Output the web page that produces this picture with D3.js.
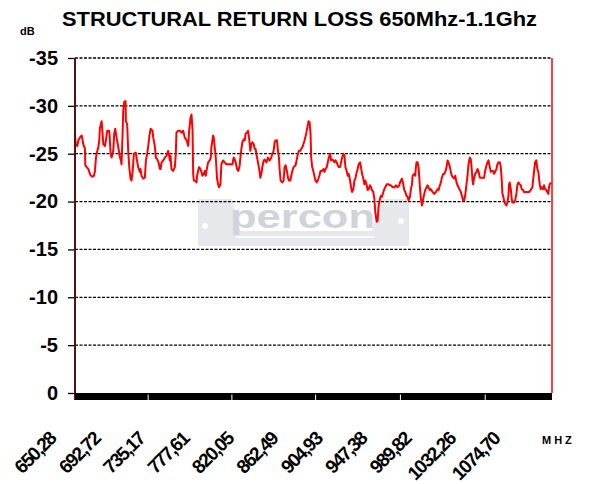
<!DOCTYPE html>
<html>
<head>
<meta charset="utf-8">
<script src="https://cdn.jsdelivr.net/npm/d3@7/dist/d3.min.js"></script>
<style>
body { margin: 0; background: #fff; }
svg { display: block; font-family: Arial, "Liberation Sans", sans-serif; }
</style>
</head>
<body>
<svg width="593" height="484"></svg>
<script>
// readings off the sweep: frequency (MHz) and return loss (dB)
var freq = [
650.0,650.6,652.2,653.1,654.7,656.3,657.2,657.8,659.4,659.7,661.0,662.6,663.5,664.8,666.6,667.9,668.8,669.8,670.4,672.0,
672.9,673.5,675.1,676.0,676.7,678.2,679.2,680.4,682.3,682.9,683.6,684.5,686.1,687.0,688.0,689.2,690.8,692.4,693.3,693.9,
694.9,695.5,696.4,697.7,698.0,699.2,700.2,701.2,702.4,703.3,704.3,704.9,705.5,707.4,708.0,709.6,711.2,711.8,712.7,714.3,
715.9,716.9,718.1,719.1,720.0,721.3,723.1,723.8,725.3,726.3,727.6,728.8,730.1,730.7,731.7,733.2,734.8,736.4,737.9,738.8,
739.5,740.1,741.0,742.6,744.2,745.1,745.7,747.3,748.9,750.5,752.0,753.6,755.2,756.8,757.7,759.0,759.9,760.9,761.5,762.1,
763.1,764.6,765.2,766.1,767.1,768.3,769.3,770.2,771.5,772.4,773.4,774.0,775.6,777.1,778.1,778.7,779.6,780.3,780.9,781.8,
782.8,783.4,784.0,785.0,785.9,787.2,788.1,789.7,791.2,792.8,796.0,798.5,799.7,800.7,801.6,802.9,804.1,805.4,806.0,807.0,
807.9,809.1,810.1,811.0,812.3,813.2,814.2,815.4,816.4,817.3,818.6,819.5,820.4,821.1,822.6,824.2,824.8,825.8,826.7,828.0,
828.9,830.5,832.0,833.0,833.6,835.2,836.1,837.4,838.3,839.3,840.5,841.5,842.4,843.0,844.0,845.5,846.8,847.7,848.7,849.9,
850.9,851.8,853.1,854.0,855.0,856.2,858.1,858.7,860.3,861.2,862.5,863.4,865.0,866.6,868.1,869.1,870.3,871.3,872.2,872.8,
873.8,875.0,876.8,878.1,879.0,880.6,881.6,883.1,884.4,885.3,886.3,887.5,888.5,889.4,890.7,891.6,892.5,893.8,894.7,895.7,
896.9,897.9,898.8,900.1,901.0,902.0,903.2,904.2,905.1,906.3,907.3,908.2,909.5,910.4,911.4,912.6,913.6,914.5,915.8,916.7,
917.6,918.9,919.8,920.8,922.0,923.0,923.9,925.2,926.1,927.1,928.3,929.3,930.2,931.4,932.4,933.3,934.6,935.5,936.5,937.7,
938.7,939.6,940.9,941.8,942.7,944.0,945.9,947.1,948.1,949.7,951.2,952.8,954.4,955.9,956.6,957.5,958.4,959.7,960.6,961.6,
962.8,963.8,964.7,966.0,966.9,967.9,968.5,970.0,971.0,971.6,972.2,973.2,974.1,974.8,975.4,976.3,977.3,977.9,978.5,979.5,
980.4,981.7,982.6,983.5,984.8,985.7,987.3,988.9,990.5,992.0,993.0,994.2,995.2,996.1,997.4,998.3,999.3,1000.5,1001.5,1002.4,
1003.7,1004.6,1005.5,1006.8,1007.7,1008.7,1009.9,1010.9,1011.8,1013.1,1014.0,1015.0,1016.2,1017.1,1018.1,1019.3,1020.3,1021.2,1022.5,1023.4,
1024.4,1025.0,1025.6,1026.6,1027.5,1028.8,1029.7,1030.6,1031.9,1034.4,1036.0,1036.9,1038.2,1039.1,1040.1,1041.3,1042.3,1043.2,1044.4,1045.4,
1046.3,1047.6,1048.5,1049.5,1050.7,1051.7,1052.6,1053.2,1053.9,1054.8,1055.7,1057.0,1057.9,1058.9,1059.5,1060.1,1061.1,1062.0,1062.7,1064.2,
1065.2,1066.4,1067.4,1068.3,1069.6,1070.5,1071.4,1072.7,1073.6,1078.3,1079.9,1081.5,1083.0,1084.0,1085.2,1086.2,1087.1,1088.4,1089.3,1090.3,
1091.5,1092.5,1093.4,1094.7,1095.6,1096.5,1097.2,1097.8,1099.0
];
var loss = [
-27.1,-26.0,-25.8,-26.4,-26.7,-26.9,-26.4,-26.0,-25.5,-23.8,-23.6,-23.4,-23.1,-22.7,-22.6,-22.7,-23.2,-24.6,-25.0,-25.7,
-26.4,-27.7,-28.4,-27.1,-26.0,-25.8,-26.4,-27.4,-27.4,-26.4,-25.0,-24.6,-25.3,-27.1,-27.6,-26.7,-25.7,-24.6,-24.3,-23.9,
-27.1,-29.5,-30.4,-30.5,-28.4,-28.1,-25.3,-23.6,-22.4,-22.2,-23.1,-23.9,-25.0,-25.1,-24.6,-23.6,-23.1,-23.4,-22.7,-22.4,
-22.5,-24.3,-25.0,-25.8,-26.7,-27.6,-27.4,-26.7,-25.8,-24.6,-24.4,-24.1,-23.4,-23.4,-24.1,-24.3,-24.6,-24.8,-25.3,-24.8,
-24.3,-24.8,-23.4,-23.2,-23.6,-25.0,-27.2,-27.4,-27.4,-27.2,-27.4,-26.7,-26.4,-25.8,-27.4,-28.8,-29.1,-27.4,-22.9,-22.2,
-22.2,-22.0,-22.7,-23.2,-23.6,-23.4,-23.1,-22.7,-22.9,-23.2,-22.7,-23.2,-24.1,-24.3,-24.6,-25.7,-26.4,-26.9,-26.7,-25.7,
-24.6,-23.6,-22.4,-21.8,-21.5,-21.8,-23.9,-24.3,-24.1,-23.9,-23.9,-23.9,-24.6,-24.4,-24.1,-23.4,-23.2,-23.8,-24.6,-25.5,
-26.2,-26.5,-26.4,-27.1,-27.2,-27.4,-26.7,-25.3,-26.0,-26.2,-26.0,-25.5,-25.5,-25.0,-24.1,-23.1,-22.5,-22.9,-23.6,-24.3,
-24.4,-24.1,-24.6,-24.4,-24.3,-24.6,-25.0,-25.3,-26.2,-26.4,-26.4,-25.3,-24.6,-23.4,-22.2,-22.0,-22.2,-23.6,-23.8,-23.2,
-22.5,-22.2,-22.2,-22.7,-23.2,-23.6,-23.8,-24.1,-25.0,-25.3,-25.3,-25.5,-25.8,-26.4,-27.1,-27.7,-28.4,-28.3,-27.1,-24.6,
-23.6,-23.1,-22.2,-22.0,-22.2,-22.7,-23.2,-23.2,-23.4,-23.1,-23.4,-23.6,-24.1,-24.6,-25.0,-24.3,-24.4,-24.3,-24.1,-24.3,
-24.1,-23.8,-23.6,-23.6,-24.1,-24.6,-25.0,-24.8,-23.6,-23.2,-22.7,-22.9,-22.2,-21.5,-21.0,-21.3,-22.2,-22.4,-23.1,-23.4,
-23.9,-24.1,-23.6,-22.9,-22.4,-21.8,-22.2,-21.7,-21.2,-21.3,-21.7,-21.5,-21.2,-21.0,-20.3,-18.9,-17.9,-18.0,-19.6,-20.3,
-20.6,-20.5,-21.0,-21.3,-21.5,-21.8,-21.8,-21.7,-21.7,-21.5,-21.5,-21.7,-21.5,-21.7,-22.0,-22.2,-22.4,-21.8,-21.2,-21.0,
-20.6,-20.5,-20.1,-20.5,-21.3,-21.8,-22.7,-22.9,-22.7,-23.6,-24.1,-24.1,-23.6,-22.5,-21.5,-20.3,-19.6,-19.8,-20.3,-20.8,
-21.2,-21.5,-21.7,-21.5,-21.2,-21.3,-21.0,-20.8,-21.0,-21.3,-21.2,-21.7,-22.0,-22.5,-22.9,-22.9,-23.1,-23.6,-24.3,-24.1,
-23.6,-23.1,-22.7,-22.5,-22.4,-22.7,-22.0,-21.7,-21.5,-21.2,-21.0,-20.6,-20.1,-20.1,-20.6,-21.8,-22.7,-23.9,-24.6,-24.4,
-23.2,-22.2,-21.8,-22.5,-22.9,-23.1,-23.4,-23.2,-22.5,-22.5,-22.5,-23.2,-23.8,-24.1,-24.3,-23.6,-23.1,-23.2,-23.2,-22.9,
-23.1,-23.4,-23.9,-24.1,-24.1,-23.6,-22.2,-20.8,-20.6,-20.1,-19.8,-19.6,-19.9,-20.6,-21.8,-22.0,-21.3,-20.3,-19.9,-19.9,
-20.1,-20.8,-21.8,-22.0,-21.8,-21.7,-21.3,-21.2,-21.0,-21.0,-21.2,-21.5,-23.1,-24.1,-24.3,-23.4,-23.1,-21.8,-21.3,-21.5,
-21.3,-21.7,-21.3,-21.2,-21.0,-20.8,-21.5,-21.8,-22.0
];
var yTicks = [0, -5, -10, -15, -20, -25, -30, -35];
var xLabels = ["650,28","692,72","735,17","777,61","820,05","862,49","904,93","947,38","989,82","1032,26","1074,70"];
var bandGaps = [719, 798, 877, 957, 1037];

var svg = d3.select("svg"),
height = +svg.attr("height"),
width = +svg.attr("width");

var x = d3.scaleLinear().domain([650, 1100]).range([75, 552]);
var y = d3.scaleLinear().domain([0, -35]).range([393, 58]);
var labelPos = d3.scalePoint().domain(xLabels).range([57, 501]);

var data = freq.map(function(f, i) { return {f: f, v: loss[i]}; });

// title + unit labels
svg.append("text")
  .attr("x", 62)
  .attr("y", 26)
  .attr("textLength", 475)
  .attr("lengthAdjust", "spacingAndGlyphs")
  .style("font-weight", "bold")
  .style("font-size", "21px")
  .text("STRUCTURAL RETURN LOSS 650Mhz-1.1Ghz");

svg.append("text")
  .attr("x", 20)
  .attr("y", 35)
  .style("font-weight", "bold")
  .style("font-size", "11px")
  .text("dB");

svg.append("text")
  .attr("x", 542)
  .attr("y", 444)
  .style("font-weight", "bold")
  .style("font-size", "11px")
  .style("letter-spacing", "3px")
  .text("MHZ");

// watermark logo
var logo = svg.append("g").attr("class", "logo");
logo.append("polygon")
  .attr("points", "198,199 232,199 240,231 372,231 380,199 409,199 409,246 198,246")
  .attr("fill", "#e6e8ec");
logo.append("line")
  .attr("x1", 236).attr("x2", 374)
  .attr("y1", 237).attr("y2", 237)
  .attr("stroke", "#ffffff")
  .attr("stroke-width", 1.5);
logo.append("circle").attr("cx", 205).attr("cy", 226).attr("r", 3).attr("fill", "#fff");
logo.append("circle").attr("cx", 401).attr("cy", 221).attr("r", 3).attr("fill", "#fff");
logo.append("text")
  .attr("x", 230)
  .attr("y", 228)
  .attr("textLength", 145)
  .attr("lengthAdjust", "spacingAndGlyphs")
  .style("font-weight", "bold")
  .style("font-size", "34px")
  .attr("fill", "#cfd3da")
  .text("percon");

// gridlines
svg.append("g")
  .attr("class", "grid")
  .selectAll("line")
  .data(yTicks.filter(function(d) { return d != 0; }))
  .enter().append("line")
  .attr("x1", x.range()[0])
  .attr("x2", x.range()[1])
  .attr("y1", function(d) { return y(d); })
  .attr("y2", function(d) { return y(d); })
  .attr("stroke", "#000")
  .attr("stroke-width", 1.3)
  .attr("stroke-dasharray", "3,1.5");

// y axis
var yAxis = svg.append("g")
  .attr("transform", "translate(75,0)")
  .call(d3.axisLeft(y)
    .tickValues(yTicks)
    .tickSize(7)
    .tickPadding(10)
    .tickFormat(function(d) { return String(d); }));
yAxis.select(".domain").remove();
yAxis.selectAll(".tick line").attr("stroke-width", 1.3);
yAxis.selectAll(".tick text")
  .style("font-family", "Arial, 'Liberation Sans', sans-serif")
  .style("font-weight", "bold")
  .style("font-size", "20px");

// right border
svg.append("line")
  .attr("x1", x.range()[1]).attr("x2", x.range()[1])
  .attr("y1", y(-35)).attr("y2", y(0))
  .attr("stroke", "#ff0000")
  .attr("stroke-width", 1.5);

// the sweep
svg.append("path")
  .datum(data)
  .attr("fill", "none")
  .attr("stroke", "#ff0000")
  .attr("stroke-width", 2)
  .attr("stroke-linejoin", "round")
  .attr("d", d3.line()
    .x(function(d) { return x(d.f); })
    .y(function(d) { return y(d.v); }));

// left axis line
svg.append("line")
  .attr("x1", 75).attr("x2", 75)
  .attr("y1", y(-35)).attr("y2", 400)
  .attr("stroke", "#5a1010")
  .attr("stroke-width", 2);

// dense category ticks -> black band
svg.append("rect")
  .attr("x", x.range()[0])
  .attr("y", y(0))
  .attr("width", x.range()[1] - x.range()[0])
  .attr("height", 7)
  .attr("fill", "#000");
svg.append("g")
  .selectAll("line")
  .data(bandGaps)
  .enter().append("line")
  .attr("x1", function(d) { return x(d); })
  .attr("x2", function(d) { return x(d); })
  .attr("y1", y(0) + 1.5)
  .attr("y2", y(0) + 7)
  .attr("stroke", "#fff")
  .attr("stroke-width", 1);

// rotated frequency labels
svg.append("g")
  .selectAll("text")
  .data(xLabels)
  .enter().append("text")
  .attr("transform", function(d) { return "translate(" + labelPos(d) + ",440)rotate(-45)"; })
  .attr("text-anchor", "end")
  .style("font-weight", "bold")
  .style("font-size", "19px")
  .style("letter-spacing", "-1.5px")
  .text(function(d) { return d; });
</script>
</body>
</html>
